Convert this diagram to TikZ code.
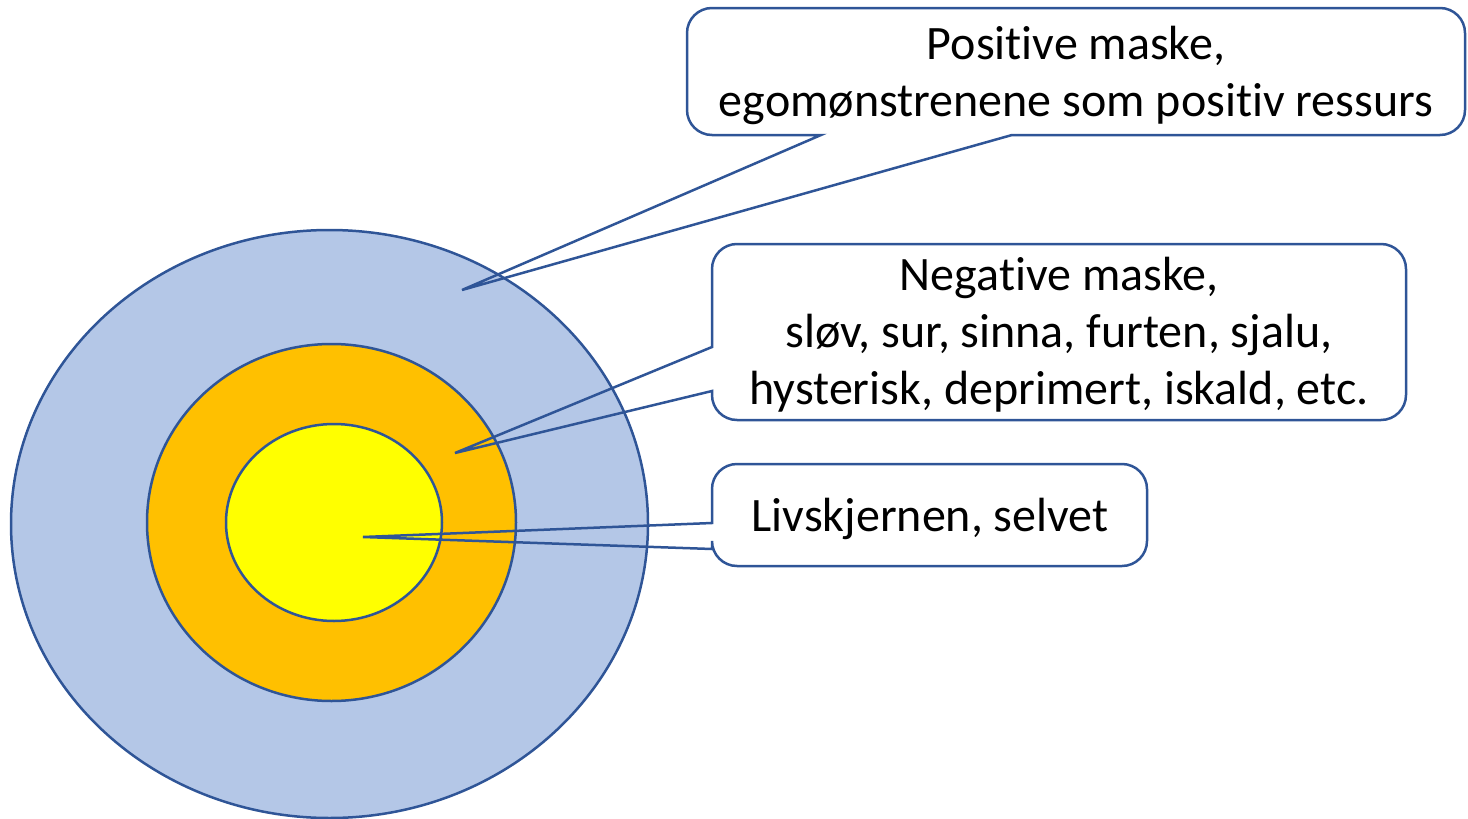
\documentclass[tikz,border=0pt]{standalone}
\usepackage{fontspec}
\setmainfont[Ligatures=NoCommon]{Carlito}
\definecolor{edge}{HTML}{2F5597}
\definecolor{outerfill}{HTML}{B4C7E7}
\definecolor{midfill}{HTML}{FFC000}
\definecolor{corefill}{HTML}{FFFF00}
\begin{document}
\begin{tikzpicture}[x=1pt,y=1pt,
  ring/.style={draw=edge,line width=2.5pt},
  callout/.style={draw=edge,line width=2.5pt,line join=miter},
  label/.style={inner sep=0pt,align=center,font=\fontsize{48}{57}\selectfont}]
\useasboundingbox (0,0) rectangle (1468,-819);
% rings
\draw[ring,fill=outerfill] (329.5,-524) ellipse [x radius=318.5,y radius=294];
\draw[ring,fill=midfill] (331.5,-522.5) ellipse [x radius=184.5,y radius=178.5];
\draw[ring,fill=corefill] (334,-522.5) ellipse [x radius=108,y radius=98.5];
% tips
\coordinate (tipA) at (462,-290);
\coordinate (tipB) at (455,-453);
\coordinate (tipC) at (363,-537);
% callout 1
\draw[callout] (712,-8) -- (1440,-8) arc[start angle=90,end angle=0,radius=25]
  -- (1465,-110) arc[start angle=0,end angle=-90,radius=25]
  -- (1012,-135) -- (tipA) -- (821,-135) -- (712,-135)
  arc[start angle=-90,end angle=-180,radius=25] -- (687,-33)
  arc[start angle=180,end angle=90,radius=25] -- cycle;
\node[label] (posmask) at (1076,-75) {Positive maske,\\egomønstrenene som positiv ressurs};
% callout 2
\draw[callout] (737,-244) -- (1381,-244) arc[start angle=90,end angle=0,radius=25]
  -- (1406,-395) arc[start angle=0,end angle=-90,radius=25]
  -- (737,-420) arc[start angle=-90,end angle=-180,radius=25]
  -- (712,-391) -- (tipB) -- (712,-347) -- (712,-269)
  arc[start angle=180,end angle=90,radius=25] -- cycle;
\node[label] (negmask) at (1059,-335) {Negative maske,\\sløv, sur, sinna, furten, sjalu,\\hysterisk, deprimert, iskald, etc.};
% callout 3
\draw[callout] (737,-464) -- (1122,-464) arc[start angle=90,end angle=0,radius=25]
  -- (1147,-541) arc[start angle=0,end angle=-90,radius=25]
  -- (737,-566) arc[start angle=-90,end angle=-180,radius=25]
  -- (712,-549) -- (tipC) -- (712,-523) -- (712,-489)
  arc[start angle=180,end angle=90,radius=25] -- cycle;
\node[label] (core) at (930,-519) {Livskjernen, selvet};
\end{tikzpicture}
\end{document}
